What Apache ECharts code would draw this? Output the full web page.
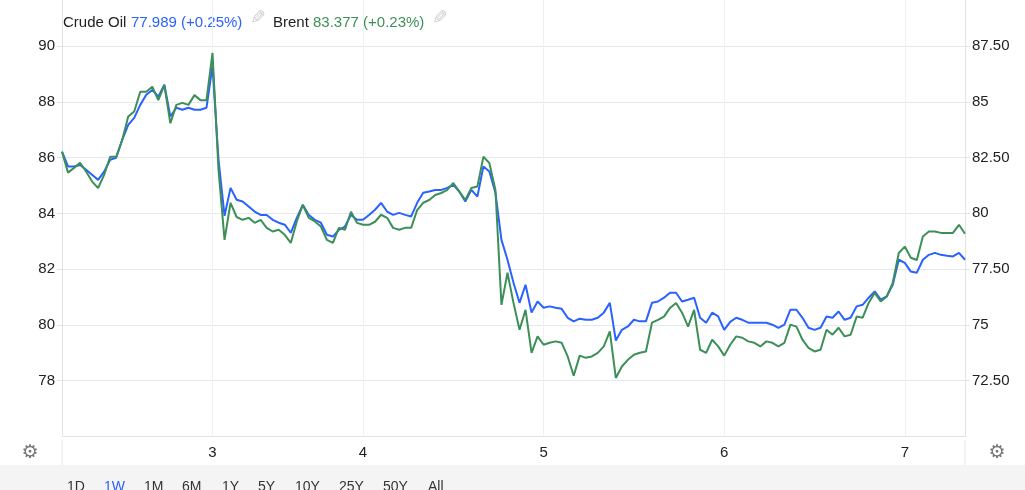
<!DOCTYPE html>
<html>
<head>
<meta charset="utf-8">
<script src="https://cdn.jsdelivr.net/npm/echarts@6.0.0/dist/echarts.min.js"></script>
<style>
  html, body { margin: 0; padding: 0; background: #fff; }
  #chart { width: 1025px; height: 490px; }
</style>
</head>
<body>
<div id="chart"></div>
<script>
// Crude Oil (right axis), Brent (left axis) — one value per sample slot
const crudeOil = [
  82.77, 82.10, 82.10, 82.17, 81.95, 81.73, 81.50, 81.87, 82.40, 82.49,
  83.29, 83.96, 84.28, 84.86, 85.31, 85.53, 85.23, 85.76, 84.34, 84.73,
  84.64, 84.73, 84.64, 84.64, 84.73, 86.61, 82.40, 79.89, 81.14, 80.61,
  80.53, 80.31, 80.08, 79.93, 79.93, 79.71, 79.58, 79.49, 79.13, 79.80,
  80.38, 79.93, 79.71, 79.58, 79.04, 78.96, 79.26, 79.41, 79.93, 79.71,
  79.71, 79.93, 80.16, 80.47, 80.08, 79.93, 80.02, 79.93, 79.86, 80.47,
  80.92, 80.98, 81.05, 81.05, 81.14, 81.28, 80.98, 80.53, 81.05, 80.75,
  82.10, 81.87, 80.92, 78.81, 77.92, 76.89, 75.99, 76.80, 75.55, 76.05,
  75.77, 75.83, 75.77, 75.72, 75.32, 75.16, 75.28, 75.23, 75.23, 75.32,
  75.55, 75.99, 74.30, 74.78, 74.93, 75.23, 75.16, 75.16, 75.99, 76.05,
  76.22, 76.44, 76.44, 76.05, 76.13, 76.22, 75.32, 75.10, 75.55, 75.38,
  74.78, 75.14, 75.32, 75.23, 75.10, 75.10, 75.10, 75.10, 75.01, 74.87,
  75.01, 75.68, 75.68, 75.32, 74.87, 74.78, 74.87, 75.38, 75.32, 75.60,
  75.23, 75.32, 75.83, 75.90, 76.22, 76.50, 76.13, 76.28, 76.80, 77.92,
  77.78, 77.39, 77.34, 77.92, 78.14, 78.23, 78.14, 78.10, 78.07, 78.23,
  77.92
];
const brent = [
  86.21, 85.46, 85.63, 85.81, 85.50, 85.14, 84.91, 85.38, 86.03, 86.03,
  86.63, 87.47, 87.65, 88.36, 88.36, 88.54, 88.06, 88.60, 87.23, 87.89,
  87.96, 87.89, 88.24, 88.06, 88.06, 89.75, 85.56, 83.05, 84.38, 83.87,
  83.77, 83.84, 83.66, 83.77, 83.48, 83.35, 83.41, 83.23, 82.94, 83.71,
  84.30, 83.84, 83.71, 83.53, 83.05, 82.94, 83.48, 83.41, 84.06, 83.66,
  83.59, 83.59, 83.70, 83.95, 83.84, 83.48, 83.41, 83.48, 83.48, 84.12,
  84.38, 84.48, 84.66, 84.73, 84.84, 85.09, 84.78, 84.48, 84.91, 84.96,
  86.03, 85.80, 84.84, 80.72, 81.87, 80.79, 79.83, 80.54, 79.00, 79.59,
  79.29, 79.36, 79.41, 79.36, 78.87, 78.18, 78.90, 78.82, 78.87, 79.00,
  79.23, 79.77, 78.10, 78.51, 78.75, 78.93, 79.00, 79.05, 80.08, 80.18,
  80.30, 80.61, 80.79, 80.44, 79.94, 80.54, 79.11, 79.00, 79.47, 79.23,
  78.90, 79.29, 79.59, 79.54, 79.41, 79.36, 79.23, 79.41, 79.36, 79.23,
  79.36, 80.01, 79.94, 79.47, 79.18, 79.05, 79.11, 79.83, 79.65, 79.90,
  79.59, 79.65, 80.30, 80.26, 80.79, 81.15, 80.84, 81.02, 81.51, 82.58,
  82.81, 82.41, 82.33, 83.17, 83.35, 83.35, 83.30, 83.30, 83.30, 83.59,
  83.27
];
// Day tick labels and the sample slot where each day starts
const dayTickSlots = [25, 50, 80, 110, 140];
const dayTickLabels = ['3', '4', '5', '6', '7'];
const rangeButtons = ['1D', '1W', '1M', '6M', '1Y', '5Y', '10Y', '25Y', '50Y', 'All'];
const rangeButtonX = [67, 104, 144, 182, 222, 258, 295, 339, 383, 428];
const activeRange = '1W';

const categories = crudeOil.map((_, i) => String(i));
const FONT = "'Liberation Sans', Arial, sans-serif";
const BLUE = '#2962ff';
const GREEN = '#3d8f58';
const GRID = '#e6e8eb';
const isDayTick = (i) => dayTickSlots.indexOf(i) >= 0;

const chart = echarts.init(document.getElementById('chart'), null, { renderer: 'canvas' });

const pencil = (x) => ({
  type: 'text', x: x + 17, y: 19, scaleX: -1,
  style: { text: '\u270E', font: "19px 'DejaVu Sans'", fill: '#cfcfcf', verticalAlign: 'middle', align: 'left' }
});

const graphics = [
  { type: 'rect', shape: { x: 0, y: 465, width: 1025, height: 25 }, style: { fill: '#f4f4f4' }, silent: true, z: 0 },
  { type: 'line', shape: { x1: 62, y1: 440, x2: 62, y2: 465 }, style: { stroke: '#e3e6ec', lineWidth: 1 } },
  { type: 'line', shape: { x1: 965, y1: 440, x2: 965, y2: 465 }, style: { stroke: '#e3e6ec', lineWidth: 1 } },
  { type: 'text', x: 30, y: 453, style: { text: '\u2699', font: "19px 'DejaVu Sans'", fill: '#777', align: 'center', verticalAlign: 'middle' } },
  { type: 'text', x: 997, y: 453, style: { text: '\u2699', font: "19px 'DejaVu Sans'", fill: '#777', align: 'center', verticalAlign: 'middle' } },
  { type: 'text', x: 63, y: 23, style: { text: 'Crude Oil', font: '15px ' + FONT, fill: '#222', verticalAlign: 'middle' } },
  { type: 'text', x: 131, y: 23, style: { text: '77.989 (+0.25%)', font: '15px ' + FONT, fill: BLUE, verticalAlign: 'middle' } },
  pencil(249),
  { type: 'text', x: 273, y: 23, style: { text: 'Brent', font: '15px ' + FONT, fill: '#222', verticalAlign: 'middle' } },
  { type: 'text', x: 313, y: 23, style: { text: '83.377 (+0.23%)', font: '15px ' + FONT, fill: GREEN, verticalAlign: 'middle' } },
  pencil(431)
];
rangeButtons.forEach((t, k) => {
  graphics.push({ type: 'text', x: rangeButtonX[k], y: 487, style: { text: t, font: '14px ' + FONT, fill: t === activeRange ? BLUE : '#333', verticalAlign: 'middle' } });
});

const option = {
  animation: false,
  backgroundColor: '#fff',
  textStyle: { fontFamily: FONT },
  grid: { left: 62, right: 60, top: 0, bottom: 53.5, containLabel: false },
  xAxis: {
    type: 'category',
    data: categories,
    boundaryGap: false,
    axisLine: { show: true, lineStyle: { color: '#e0e3e8' } },
    axisTick: { show: false },
    axisLabel: {
      interval: (i) => isDayTick(i),
      formatter: (v, i) => dayTickLabels[dayTickSlots.indexOf(i)] || '',
      color: '#222', fontSize: 15, margin: 9, fontFamily: FONT
    },
    splitLine: { show: true, interval: (i) => isDayTick(i), lineStyle: { color: '#edf1f7', width: 1 } }
  },
  yAxis: [
    {
      type: 'value', position: 'left', min: 76, max: 91.65, interval: 2,
      axisLine: { show: true, lineStyle: { color: '#e0e3e8' } },
      axisTick: { show: true, length: 5, lineStyle: { color: '#e0e3e8' } },
      axisLabel: { showMinLabel: false, showMaxLabel: false, color: '#222', fontSize: 15, margin: 7, fontFamily: FONT },
      splitLine: { show: true, lineStyle: { color: [GRID, GRID, GRID, GRID, GRID, GRID, GRID, GRID, 'rgba(0,0,0,0)'], width: 1 } }
    },
    {
      type: 'value', position: 'right', min: 70, max: 89.56, interval: 2.5,
      axisLine: { show: true, lineStyle: { color: '#e0e3e8' } },
      axisTick: { show: true, length: 5, lineStyle: { color: '#e0e3e8' } },
      axisLabel: {
        showMinLabel: false, showMaxLabel: false, color: '#222', fontSize: 15, margin: 7, fontFamily: FONT,
        formatter: (v) => (Math.abs(v - Math.round(v)) < 1e-6 ? String(Math.round(v)) : v.toFixed(2))
      },
      splitLine: { show: false }
    }
  ],
  series: [
    {
      name: 'Brent', type: 'line', yAxisIndex: 0, data: brent,
      showSymbol: false, symbol: 'none', lineStyle: { color: GREEN, width: 2 }, itemStyle: { color: GREEN }, z: 3
    },
    {
      name: 'Crude Oil', type: 'line', yAxisIndex: 1, data: crudeOil,
      showSymbol: false, symbol: 'none', lineStyle: { color: BLUE, width: 2 }, itemStyle: { color: BLUE }, z: 2
    }
  ],
  graphic: graphics
};
chart.setOption(option);
</script>
</body>
</html>
